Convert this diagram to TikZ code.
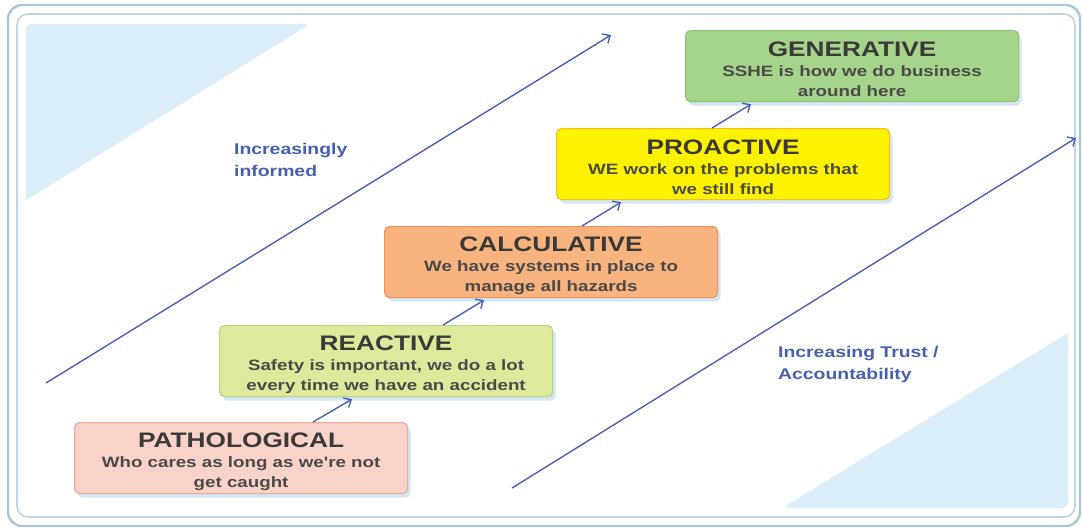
\documentclass[tikz,border=0pt]{standalone}
\usepackage{fontspec}
\setmainfont{Liberation Sans}
\newfontfamily\wf[FakeStretch=1.25]{Liberation Sans}
\usetikzlibrary{arrows.meta,shadows,calc}
\definecolor{frameA}{HTML}{A9C7D8}
\definecolor{frameB}{HTML}{BCD6E4}
\definecolor{tri}{HTML}{DBEFFA}
\definecolor{arrc}{HTML}{4A62B4}
\definecolor{lblc}{HTML}{4560AD}
\definecolor{titc}{HTML}{3A3A3A}
\definecolor{subc}{HTML}{4A4A4A}
\definecolor{shc}{HTML}{D3E6F4}
\definecolor{pathF}{HTML}{F9D2CA}\definecolor{pathD}{HTML}{F2A898}
\definecolor{reacF}{HTML}{DFE99C}\definecolor{reacD}{HTML}{B9D67E}
\definecolor{calcF}{HTML}{F8B37E}\definecolor{calcD}{HTML}{EF9458}
\definecolor{proF}{HTML}{FFF200}\definecolor{proD}{HTML}{F6C21A}
\definecolor{genF}{HTML}{A7D48B}\definecolor{genD}{HTML}{8CC471}
\tikzset{
  stage/.style={draw=#1, line width=1.2pt, rounded corners=5pt, minimum width=333pt,
    minimum height=71pt, inner sep=0pt, align=center, anchor=north west,
    drop shadow={shadow xshift=3pt, shadow yshift=-4pt, fill=shc, opacity=1},
    text=subc, font=\wf\bfseries\fontsize{15}{20}\selectfont},
  arr/.style={draw=arrc, line width=1.4pt, -{Straight Barb[length=6pt,width=11pt,line width=1.4pt]}},
  lbl/.style={text=lblc, align=left, anchor=north west, inner sep=0pt,
    font=\wf\bfseries\fontsize{15.5}{22}\selectfont}
}
\newcommand{\ttlfont}[1]{{\color{titc}\fontsize{21}{20}\selectfont\rule{0pt}{21pt}#1}}
\begin{document}
\begin{tikzpicture}[x=1pt,y=-1pt]
\useasboundingbox (0,0) rectangle (1082,531);
% frames
\draw[frameA, line width=2.4pt, rounded corners=14pt] (8,5) rectangle (1080,526);
\draw[frameB, line width=1.6pt, rounded corners=11pt] (17,14) rectangle (1075,517);
% triangles
\fill[tri, rounded corners=6pt] (26,24) -- (310,24) [sharp corners] -- (26,200) [rounded corners=6pt] -- cycle;
\fill[tri] (310,24) [rounded corners=0pt] -- (26,200) -- (26,30) [rounded corners=6pt] -- (26,24) -- cycle;
\fill[tri, rounded corners=6pt] (1068,508) -- (782,508) [sharp corners] -- (1068,333) [rounded corners=6pt] -- cycle;
% long arrows
\coordinate (la1) at (46,383);
\coordinate (la2) at (611,35);
\coordinate (ra1) at (512,488);
\coordinate (ra2) at (1076,138);
\draw[arr] (la1) -- (la2);
\draw[arr] (ra1) -- (ra2);
% labels
\node[lbl] (inf) at (234,143) {Increasingly\\informed};
\node[lbl] (trust) at (778,346) {Increasing Trust /\\Accountability};
% stages
\node[stage=pathD, fill=pathF] (patho) at (74,422) {\ttlfont{PATHOLOGICAL}\\Who cares as long as we're not\\get caught};
\node[stage=reacD, fill=reacF] (reac) at (219,325) {\ttlfont{REACTIVE}\\Safety is important, we do a lot\\every time we have an accident};
\node[stage=calcD, fill=calcF] (calc) at (384,226) {\ttlfont{CALCULATIVE}\\We have systems in place to\\manage all hazards};
\node[stage=proD, fill=proF] (pro) at (556,128) {\ttlfont{PROACTIVE}\\WE work on the problems that\\we still find};
\node[stage=genD, fill=genF] (gen) at (685,30) {\ttlfont{GENERATIVE}\\SSHE is how we do business\\around here};
% step arrows
\draw[arr] ([xshift=239pt]patho.north west) -- ([xshift=133pt,yshift=-2pt]reac.south west);
\draw[arr] ([xshift=224pt]reac.north west) -- ([xshift=100pt,yshift=-2pt]calc.south west);
\draw[arr] ([xshift=198pt]calc.north west) -- ([xshift=65pt,yshift=-2pt]pro.south west);
\draw[arr] ([xshift=156pt]pro.north west) -- ([xshift=66pt,yshift=-2pt]gen.south west);
\end{tikzpicture}
\end{document}
